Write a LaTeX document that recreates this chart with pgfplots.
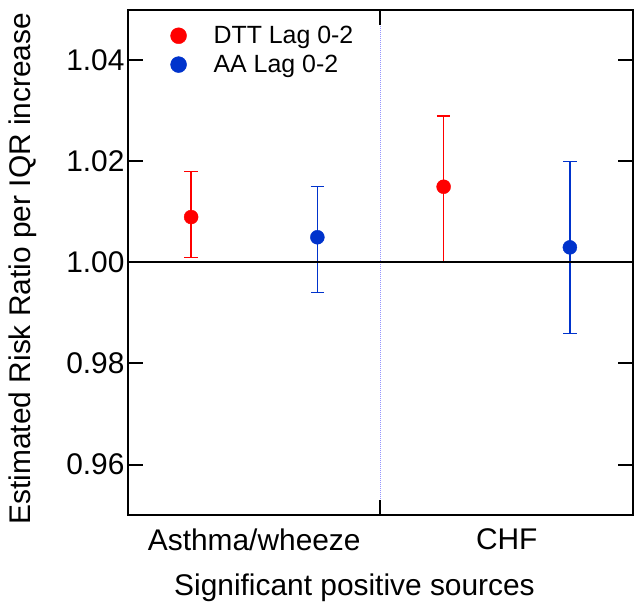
\documentclass[border=0pt]{standalone}
\usepackage{pgfplots}
\usepackage{pgfplotstable}
\pgfplotsset{compat=1.18}
\usepackage{fontspec}
\setmainfont{Liberation Sans}
\definecolor{dttred}{RGB}{255,0,0}
\definecolor{aablue}{RGB}{0,51,204}
\definecolor{divblue}{RGB}{150,150,255}
\pgfplotstableread{
x y ep em
0.25 1.009 0.009 0.008
1.25 1.015 0.014 0.015
}\dtt
\pgfplotstableread{
x y ep em
0.75 1.005 0.010 0.011
1.75 1.003 0.017 0.017
}\aa
\begin{document}
\begin{tikzpicture}
\begin{axis}[
 name=ax,
 axis on top,
 scale only axis, width=505bp, height=505bp,
 xmin=0, xmax=2, ymin=0.95, ymax=1.05,
 axis line style={line width=2bp},
 ytick={0.96,0.98,1.00,1.02,1.04},
 yticklabel style={/pgf/number format/fixed,/pgf/number format/fixed zerofill,/pgf/number format/precision=2},
 /pgf/number format/assume math mode=true,
 xtick={1}, xticklabels={},
 extra x ticks={0.5,1.5}, extra x tick labels={Asthma/wheeze,CHF},
 extra x tick style={major tick length=0pt},
 tick align=inside, major tick length=15bp, tick style={black, line width=2bp},
 xtick style={black, line width=2bp},
 ticklabel style={font=\fontsize{30}{34}\selectfont},
 label style={font=\fontsize{30}{34}\selectfont},
 xticklabel shift=10bp,
 ylabel={Estimated Risk Ratio per IQR increase},
 ylabel style={at={(ticklabel cs:0.488)}},
 ylabel shift=23bp,
 xlabel={Significant positive sources},
 xlabel style={at={(ticklabel cs:0.4485)}},
 xlabel shift=7bp,
 legend image code/.code={\draw[#1, mark size=8bp] plot coordinates {(0bp,0bp)};},
 legend style={draw=none, fill=none, at={(rel axis cs:0.078,0.976)}, anchor=north west,
   font=\fontsize{25}{29}\selectfont, row sep=6bp,
   /tikz/every odd column/.append style={column sep=25bp}},
 legend cell align=left,
]
\addplot[divblue, dash pattern=on 1bp off 1bp, line width=0.8bp, forget plot] coordinates {(1,0.95) (1,1.05)};
\addplot[only marks, mark=*, color=dttred, mark size=7bp,
  error bars/.cd, y dir=both, y explicit,
  error bar style={line width=1.3bp, dttred},
  error mark options={rotate=90, mark size=6.7bp, line width=1.3bp, dttred}]
  table[x=x, y=y, y error plus=ep, y error minus=em] {\dtt};
\addlegendentry{DTT Lag 0-2}
\addplot[only marks, mark=*, color=aablue, mark size=7bp,
  error bars/.cd, y dir=both, y explicit,
  error bar style={line width=1.3bp, aablue},
  error mark options={rotate=90, mark size=6.7bp, line width=1.3bp, aablue}]
  table[x=x, y=y, y error plus=ep, y error minus=em] {\aa};
\addlegendentry{AA Lag 0-2}
\addplot[black, line width=2bp, forget plot] coordinates {(0,1) (2,1)};
\coordinate (tr) at (rel axis cs:1,1);
\coordinate (bl) at (rel axis cs:0,0);
\end{axis}
\pgfresetboundingbox
\path ([shift={(-128bp,-88bp)}]bl) rectangle ([shift={(2bp,10bp)}]tr);
\end{tikzpicture}
\end{document}
